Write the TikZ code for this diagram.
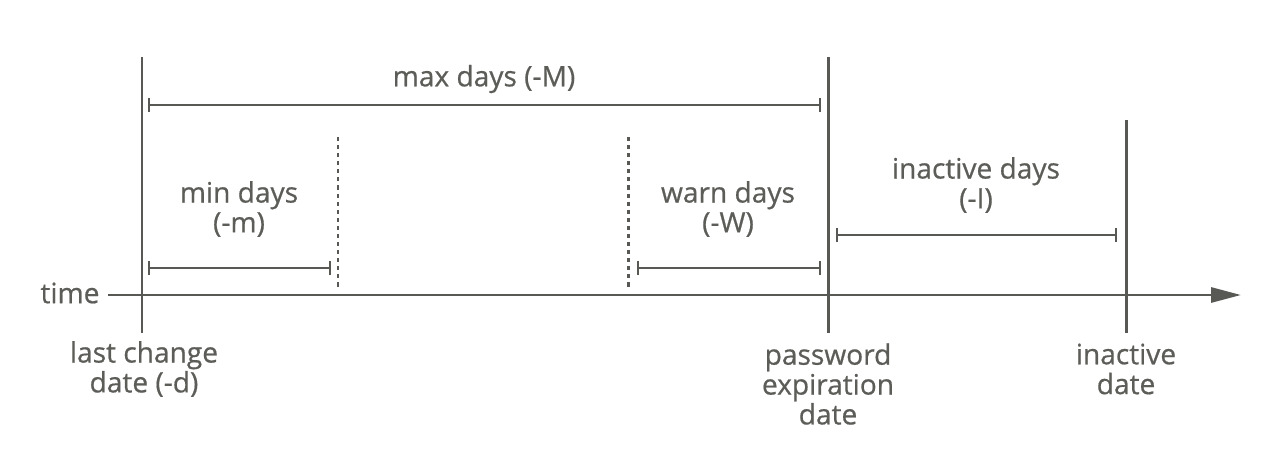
\documentclass[tikz,border=0pt]{standalone}
\usepackage{fontspec}
\setmainfont{Open Sans}
\newfontfamily\lblfont[FakeBold=0.6]{Open Sans}
\usetikzlibrary{positioning, arrows.meta}
\definecolor{linegray}{RGB}{88, 88, 84}
\definecolor{textgray}{RGB}{92, 92, 88}

\begin{document}
\begin{tikzpicture}[x=0.02cm, y=-0.02cm,
  markline/.style={linegray, line width=1.7pt},
  span/.style={linegray, line width=1.3pt, {Bar[width=8pt]}-{Bar[width=8pt]}},
  limit/.style={linegray, line width=1.7pt, dash pattern=on 2.3pt off 2.3pt},
  lbl/.style={textgray, font=\fontsize{16}{17}\lblfont, align=center, inner sep=0pt}]
 \useasboundingbox (0, 0) rectangle (1274, 463);
 % time axis
 \node[lbl] (time) at (70, 293) {time};
 \coordinate (axis start) at (108, 295);
 \coordinate (axis end) at (1241, 295);
 \draw[markline, -{Triangle[length=17pt, width=8.5pt]}] (axis start) -- (axis end);
 % date markers
 \coordinate (change top) at (142, 57);
 \coordinate (change bot) at (142, 333);
 \coordinate (expire top) at (828, 57);
 \coordinate (expire bot) at (828, 333);
 \coordinate (inactive top) at (1126, 120);
 \coordinate (inactive bot) at (1126, 333);
 \draw[markline] (change top) -- (change bot);
 \draw[markline] (expire top) -- (expire bot);
 \draw[markline] (inactive top) -- (inactive bot);
 \node[lbl] (change) at (144, 369) {last change\\date (-d)};
 \node[lbl] (expire) at (828, 384) {password\\expiration\\date};
 \node[lbl] (inactive) at (1126, 369) {inactive\\date};
 % limits
 \coordinate (min top) at (338, 137);
 \coordinate (min bot) at (338, 287);
 \coordinate (warn top) at (628, 137);
 \coordinate (warn bot) at (628, 287);
 \draw[limit] (min top) -- (min bot);
 \draw[limit] (warn top) -- (warn bot);
 % spans
 \coordinate (max a) at (148, 105);
 \coordinate (max b) at (821, 105);
 \coordinate (min a) at (148, 268);
 \coordinate (min b) at (331, 268);
 \coordinate (warn a) at (637, 268);
 \coordinate (warn b) at (821, 268);
 \coordinate (idle a) at (836, 235);
 \coordinate (idle b) at (1117, 235);
 \draw[span] (max a) -- (max b);
 \draw[span] (min a) -- (min b);
 \draw[span] (warn a) -- (warn b);
 \draw[span] (idle a) -- (idle b);
 \node[lbl] (max days) at (484, 79) {max days (-M)};
 \node[lbl] (min days) at (239, 209) {min days\\(-m)};
 \node[lbl] (warn days) at (728, 209) {warn days\\(-W)};
 \node[lbl] (idle days) at (976, 185) {inactive days\\(-I)};
\end{tikzpicture}
\end{document}
